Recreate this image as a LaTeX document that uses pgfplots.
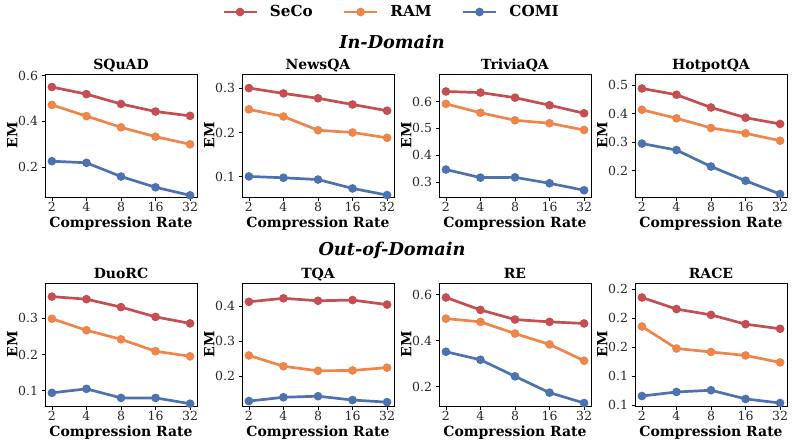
\documentclass[border=0pt]{standalone}
\usepackage{pgfplots}
\pgfplotsset{compat=1.18}
\usepackage{fontspec}
\setmainfont{DejaVu Serif}

\definecolor{secoRed}{HTML}{C44E52}
\definecolor{ramOrange}{HTML}{EE854A}
\definecolor{comiBlue}{HTML}{4C72B0}

\pgfplotsset{
  panel/.style={
    scale only axis,
    width=152pt, height=123pt,
    anchor=south west,
    xmin=0.8, xmax=5.2,
    xtick={1,2,3,4,5},
    xticklabels={2,4,8,16,32},
    /pgf/number format/assume math mode=true,
    yticklabel style={/pgf/number format/.cd, fixed, fixed zerofill, precision=1},
    tick label style={font=\fontsize{12.5}{14}\selectfont, text=black!85},
    xticklabel style={inner sep=2pt},
    tick align=outside,
    xtick pos=bottom, ytick pos=left,
    major tick length=3.5pt,
    every tick/.style={black, line width=0.8pt},
    axis line style={black, line width=0.9pt},
    every axis title/.style={at={(axis description cs:0.5,1)}, anchor=base, yshift=4.5pt, font=\bfseries\fontsize{14}{16}\selectfont},
    xlabel={Compression Rate},
    ylabel={EM},
    every axis x label/.style={at={(axis description cs:0.5,-0.215)}, anchor=center, font=\bfseries\fontsize{14}{16}\selectfont},
    every axis y label/.style={at={(axis description cs:-0.215,0.5)}, rotate=90, anchor=center, font=\bfseries\fontsize{14}{16}\selectfont},
    every axis plot/.append style={line width=2.7pt, mark=*, mark size=2.9pt, mark options={solid}},
  },
  seco/.style={color=secoRed},
  ram/.style={color=ramOrange},
  comi/.style={color=comiBlue},
}

\begin{document}
\begin{tikzpicture}
\path[use as bounding box] (0pt,0pt) rectangle (794pt,445pt);

% ---------------- In-Domain ----------------
\begin{axis}[panel, at={(45pt,248pt)}, title={SQuAD},
  ymin=0.0696, ymax=0.607, ytick={0.2,0.4,0.6},
  legend columns=3,
  legend style={draw=none, fill=none, at={(axis description cs:2.276,1.504)}, anchor=center,
    font=\bfseries\fontsize{15.2}{17}\selectfont,
    /tikz/every odd column/.append style={column sep=11pt},
    /tikz/every even column/.append style={column sep=29pt},
    nodes={inner sep=1pt}},
  legend image code/.code={\draw[mark repeat=2, mark phase=2, #1] plot coordinates {(0pt,0pt) (16.5pt,0pt) (33pt,0pt)};},
]
\addplot[seco] coordinates {(1,0.550) (2,0.519) (3,0.476) (4,0.443) (5,0.424)};
\addplot[ram]  coordinates {(1,0.472) (2,0.423) (3,0.374) (4,0.333) (5,0.300)};
\addplot[comi] coordinates {(1,0.226) (2,0.219) (3,0.159) (4,0.112) (5,0.077)};
\legend{SeCo, RAM, COMI}
\end{axis}

\begin{axis}[panel, at={(242pt,248pt)}, title={NewsQA},
  ymin=0.0547, ymax=0.3317, ytick={0.1,0.2,0.3}]
\addplot[seco] coordinates {(1,0.300) (2,0.288) (3,0.277) (4,0.263) (5,0.249)};
\addplot[ram]  coordinates {(1,0.252) (2,0.236) (3,0.205) (4,0.200) (5,0.188)};
\addplot[comi] coordinates {(1,0.101) (2,0.098) (3,0.094) (4,0.074) (5,0.059)};
\end{axis}

\begin{axis}[panel, at={(439pt,248pt)}, title={TriviaQA},
  ymin=0.245, ymax=0.702, ytick={0.3,0.4,0.5,0.6}]
\addplot[seco] coordinates {(1,0.637) (2,0.633) (3,0.614) (4,0.586) (5,0.556)};
\addplot[ram]  coordinates {(1,0.591) (2,0.558) (3,0.530) (4,0.519) (5,0.494)};
\addplot[comi] coordinates {(1,0.347) (2,0.317) (3,0.318) (4,0.296) (5,0.270)};
\end{axis}

\begin{axis}[panel, at={(635pt,248pt)}, title={HotpotQA},
  ymin=0.1067, ymax=0.540, ytick={0.2,0.3,0.4,0.5}]
\addplot[seco] coordinates {(1,0.489) (2,0.467) (3,0.422) (4,0.386) (5,0.364)};
\addplot[ram]  coordinates {(1,0.414) (2,0.384) (3,0.350) (4,0.331) (5,0.305)};
\addplot[comi] coordinates {(1,0.295) (2,0.272) (3,0.214) (4,0.164) (5,0.117)};
\end{axis}

% ---------------- Out-of-Domain ----------------
\begin{axis}[panel, at={(45pt,39pt)}, title={DuoRC},
  ymin=0.0576, ymax=0.3977, ytick={0.1,0.2,0.3}]
\addplot[seco] coordinates {(1,0.360) (2,0.353) (3,0.331) (4,0.304) (5,0.286)};
\addplot[ram]  coordinates {(1,0.299) (2,0.267) (3,0.242) (4,0.209) (5,0.195)};
\addplot[comi] coordinates {(1,0.094) (2,0.105) (3,0.080) (4,0.080) (5,0.064)};
\end{axis}

\begin{axis}[panel, at={(242pt,39pt)}, title={TQA},
  ymin=0.1139, ymax=0.467, ytick={0.2,0.3,0.4}]
\addplot[seco] coordinates {(1,0.413) (2,0.423) (3,0.416) (4,0.418) (5,0.405)};
\addplot[ram]  coordinates {(1,0.259) (2,0.228) (3,0.215) (4,0.216) (5,0.224)};
\addplot[comi] coordinates {(1,0.128) (2,0.139) (3,0.142) (4,0.131) (5,0.125)};
\end{axis}

\begin{axis}[panel, at={(439pt,39pt)}, title={RE},
  ymin=0.116, ymax=0.651, ytick={0.2,0.4,0.6}]
\addplot[seco] coordinates {(1,0.588) (2,0.534) (3,0.492) (4,0.482) (5,0.475)};
\addplot[ram]  coordinates {(1,0.496) (2,0.482) (3,0.431) (4,0.384) (5,0.313)};
\addplot[comi] coordinates {(1,0.352) (2,0.317) (3,0.245) (4,0.174) (5,0.129)};
\end{axis}

\begin{axis}[panel, at={(635pt,39pt)}, title={RACE},
  ymin=0.0994, ymax=0.2055, ytick={0.1,0.125,0.15,0.175,0.2},
  yticklabels={0.1,0.1,0.2,0.2,0.2}]
\addplot[seco] coordinates {(1,0.193) (2,0.183) (3,0.178) (4,0.170) (5,0.166)};
\addplot[ram]  coordinates {(1,0.168) (2,0.149) (3,0.146) (4,0.143) (5,0.137)};
\addplot[comi] coordinates {(1,0.108) (2,0.1115) (3,0.113) (4,0.1055) (5,0.102)};
\end{axis}

% group headings
\node[font=\bfseries\itshape\fontsize{17.7}{20}\selectfont] at (392pt,403pt) {In-Domain};
\node[font=\bfseries\itshape\fontsize{17.7}{20}\selectfont] at (392pt,195pt) {Out-of-Domain};
\end{tikzpicture}
\end{document}
